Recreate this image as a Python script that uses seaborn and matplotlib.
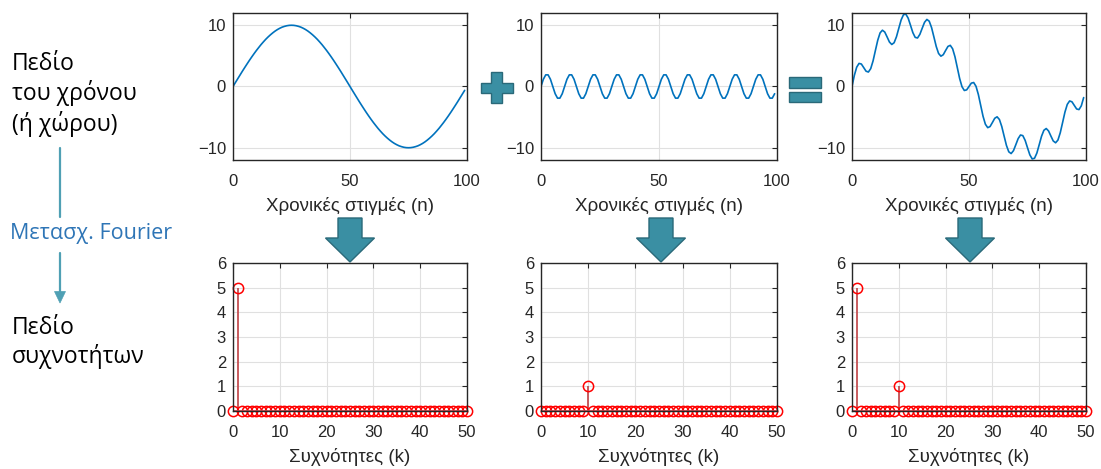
import matplotlib
matplotlib.use("Agg")
import matplotlib.pyplot as plt
from matplotlib.patches import Polygon
from matplotlib.lines import Line2D
import seaborn as sns

# time samples n = 0..99
n_samples = list(range(100))

# slow sinusoid (amplitude 10, one period over 100 samples)
slow_wave = [
    0.00, 0.63, 1.25, 1.87, 2.49, 3.09, 3.68, 4.26, 4.82, 5.36,
    5.88, 6.37, 6.85, 7.29, 7.71, 8.09, 8.44, 8.76, 9.05, 9.30,
    9.51, 9.69, 9.82, 9.92, 9.98, 10.00, 9.98, 9.92, 9.82, 9.69,
    9.51, 9.30, 9.05, 8.76, 8.44, 8.09, 7.71, 7.29, 6.85, 6.37,
    5.88, 5.36, 4.82, 4.26, 3.68, 3.09, 2.49, 1.87, 1.25, 0.63,
    0.00, -0.63, -1.25, -1.87, -2.49, -3.09, -3.68, -4.26, -4.82, -5.36,
    -5.88, -6.37, -6.85, -7.29, -7.71, -8.09, -8.44, -8.76, -9.05, -9.30,
    -9.51, -9.69, -9.82, -9.92, -9.98, -10.00, -9.98, -9.92, -9.82, -9.69,
    -9.51, -9.30, -9.05, -8.76, -8.44, -8.09, -7.71, -7.29, -6.85, -6.37,
    -5.88, -5.36, -4.82, -4.26, -3.68, -3.09, -2.49, -1.87, -1.25, -0.63,
]

# fast sinusoid (amplitude 2, ten periods over 100 samples)
fast_wave = [
    0.00, 1.18, 1.90, 1.90, 1.18, 0.00, -1.18, -1.90, -1.90, -1.18,
    0.00, 1.18, 1.90, 1.90, 1.18, 0.00, -1.18, -1.90, -1.90, -1.18,
    0.00, 1.18, 1.90, 1.90, 1.18, 0.00, -1.18, -1.90, -1.90, -1.18,
    0.00, 1.18, 1.90, 1.90, 1.18, 0.00, -1.18, -1.90, -1.90, -1.18,
    0.00, 1.18, 1.90, 1.90, 1.18, 0.00, -1.18, -1.90, -1.90, -1.18,
    0.00, 1.18, 1.90, 1.90, 1.18, 0.00, -1.18, -1.90, -1.90, -1.18,
    0.00, 1.18, 1.90, 1.90, 1.18, 0.00, -1.18, -1.90, -1.90, -1.18,
    0.00, 1.18, 1.90, 1.90, 1.18, 0.00, -1.18, -1.90, -1.90, -1.18,
    0.00, 1.18, 1.90, 1.90, 1.18, 0.00, -1.18, -1.90, -1.90, -1.18,
    0.00, 1.18, 1.90, 1.90, 1.18, 0.00, -1.18, -1.90, -1.90, -1.18,
]

# sum of the two
sum_wave = [
    0.00, 1.81, 3.15, 3.77, 3.67, 3.09, 2.50, 2.36, 2.92, 4.18,
    5.88, 7.55, 8.75, 9.19, 8.89, 8.09, 7.26, 6.86, 7.15, 8.12,
    9.51, 10.87, 11.72, 11.82, 11.16, 10.00, 8.80, 8.02, 7.92, 8.51,
    9.51, 10.48, 10.95, 10.66, 9.62, 8.09, 6.53, 5.39, 4.95, 5.19,
    5.88, 6.54, 6.72, 6.16, 4.86, 3.09, 1.31, -0.03, -0.65, -0.55,
    0.00, 0.55, 0.65, 0.03, -1.31, -3.09, -4.86, -6.16, -6.72, -6.54,
    -5.88, -5.19, -4.95, -5.39, -6.53, -8.09, -9.62, -10.66, -10.95, -10.48,
    -9.51, -8.51, -7.92, -8.02, -8.80, -10.00, -11.16, -11.82, -11.72, -10.87,
    -9.51, -8.12, -7.15, -6.86, -7.26, -8.09, -8.89, -9.19, -8.75, -7.55,
    -5.88, -4.18, -2.92, -2.36, -2.50, -3.09, -3.67, -3.77, -3.15, -1.81,
]

# frequency bins k = 0..50 and magnitudes
k_bins = list(range(51))
spec_slow = [
    0, 5, 0, 0, 0, 0, 0, 0, 0, 0,
    0, 0, 0, 0, 0, 0, 0, 0, 0, 0,
    0, 0, 0, 0, 0, 0, 0, 0, 0, 0,
    0, 0, 0, 0, 0, 0, 0, 0, 0, 0,
    0, 0, 0, 0, 0, 0, 0, 0, 0, 0,
    0,
]
spec_fast = [
    0, 0, 0, 0, 0, 0, 0, 0, 0, 0,
    1, 0, 0, 0, 0, 0, 0, 0, 0, 0,
    0, 0, 0, 0, 0, 0, 0, 0, 0, 0,
    0, 0, 0, 0, 0, 0, 0, 0, 0, 0,
    0, 0, 0, 0, 0, 0, 0, 0, 0, 0,
    0,
]
spec_sum = [
    0, 5, 0, 0, 0, 0, 0, 0, 0, 0,
    1, 0, 0, 0, 0, 0, 0, 0, 0, 0,
    0, 0, 0, 0, 0, 0, 0, 0, 0, 0,
    0, 0, 0, 0, 0, 0, 0, 0, 0, 0,
    0, 0, 0, 0, 0, 0, 0, 0, 0, 0,
    0,
]

time_label = "Χρονικές στιγμές (n)"
freq_label = "Συχνότητες (k)"

W, H = 1101, 469
sns.set_theme(style="white")
plt.rcParams["font.family"] = ["Liberation Sans", "DejaVu Sans"]

fig = plt.figure(figsize=(W / 100, H / 100), dpi=100)
fig.patch.set_facecolor("white")

AX_GRAY = "#262626"
TEAL = "#3A8FA3"
TEAL_EDGE = "#2A6979"
ARROW_LINE = "#4FA0B4"
LEFT_FONT = ["Open Sans", "DejaVu Sans"]


def rect(x0, y0, x1, y1):
    # pixel box -> figure fraction
    return [x0 / W, 1 - y1 / H, (x1 - x0) / W, (y1 - y0) / H]


def P(x, y):
    return (x / W, 1 - y / H)


def style_axes(ax):
    ax.grid(True, color="#e0e0e0", linewidth=0.8)
    ax.set_axisbelow(True)
    ax.tick_params(direction="in", top=True, right=True, length=3.5, width=0.8,
                   colors=AX_GRAY, labelsize=12, labelcolor=AX_GRAY)
    ax.tick_params(axis="x", pad=10)
    ax.tick_params(axis="y", pad=5)
    for s in ax.spines.values():
        s.set_visible(True)
        s.set_color(AX_GRAY)
        s.set_linewidth(1.0)


def time_panel(box, values):
    ax = fig.add_axes(rect(*box))
    sns.lineplot(x=n_samples, y=values, ax=ax, color="#0072BD", linewidth=1.2)
    ax.set_xlim(0, 100)
    ax.set_ylim(-12, 12)
    ax.set_xticks([0, 50, 100])
    ax.set_yticks([-10, 0, 10])
    style_axes(ax)
    ax.set_xlabel(time_label, fontsize=13.5, color=AX_GRAY, labelpad=5.5)
    return ax


def freq_panel(box, values):
    ax = fig.add_axes(rect(*box))
    ml, sl, bl = ax.stem(k_bins, values, linefmt="r-", markerfmt="ro", basefmt="r-")
    ml.set_markerfacecolor("none")
    ml.set_markeredgecolor("red")
    ml.set_markersize(7.4)
    ml.set_markeredgewidth(1.1)
    ml.set_clip_on(False)
    sl.set_linewidth(1.3)
    bl.set_linewidth(1.3)
    ax.set_xlim(0, 50)
    ax.set_ylim(0, 6)
    ax.set_xticks(range(0, 51, 10))
    ax.set_yticks(range(0, 7))
    style_axes(ax)
    ax.set_xlabel(freq_label, fontsize=13.5, color=AX_GRAY, labelpad=5.5)
    return ax


cols = [(233, 467), (541, 777), (852, 1086)]
for (x0, x1), sig in zip(cols, [slow_wave, fast_wave, sum_wave]):
    time_panel((x0, 13, x1, 160), sig)
for (x0, x1), spec in zip(cols, [spec_slow, spec_fast, spec_sum]):
    freq_panel((x0, 263, x1, 411), spec)


def add_poly(pts):
    fig.add_artist(Polygon([P(x, y) for x, y in pts], closed=True,
                           transform=fig.transFigure, facecolor=TEAL,
                           edgecolor=TEAL_EDGE, linewidth=1.0, zorder=-1))


# plus sign
add_poly([(491, 72), (502, 72), (502, 82.5), (512.5, 82.5), (512.5, 93.5), (502, 93.5),
          (502, 103.5), (491, 103.5), (491, 93.5), (480.5, 93.5), (480.5, 82.5), (491, 82.5)])

# equals sign
for y0, y1 in [(77, 88), (92, 102.5)]:
    add_poly([(789, y0), (821, y0), (821, y1), (789, y1)])

# block arrows between domains
for xc in [350, 661, 970]:
    add_poly([(xc - 12, 218), (xc + 12, 218), (xc + 12, 238), (xc + 24.5, 238),
              (xc, 262), (xc - 24.5, 238), (xc - 12, 238)])

# left column text
fig.text(12 / W, 1 - 52 / H, "Πεδίο\nτου χρόνου\n(ή χώρου)", family=LEFT_FONT,
         fontsize=16.5, color="black", ha="left", va="top", linespacing=1.22)
fig.text(12 / W, 1 - 316 / H, "Πεδίο\nσυχνοτήτων", family=LEFT_FONT,
         fontsize=16.5, color="black", ha="left", va="top", linespacing=1.22)
fig.text(10 / W, 1 - 233 / H, "Μετασχ. Fourier", family=LEFT_FONT,
         fontsize=15.5, color="#2E75B6", ha="left", va="center")

fig.add_artist(Line2D([60 / W, 60 / W], [1 - 148 / H, 1 - 217 / H],
                      transform=fig.transFigure, color=ARROW_LINE, linewidth=1.6))
fig.add_artist(Line2D([60 / W, 60 / W], [1 - 253 / H, 1 - 293 / H],
                      transform=fig.transFigure, color=ARROW_LINE, linewidth=1.6))
fig.add_artist(Polygon([P(54.5, 291.5), P(65.5, 291.5), P(60, 303)], closed=True,
                       transform=fig.transFigure, facecolor=ARROW_LINE,
                       edgecolor=ARROW_LINE, linewidth=0.5))

fig.savefig("out.png", dpi=100)
